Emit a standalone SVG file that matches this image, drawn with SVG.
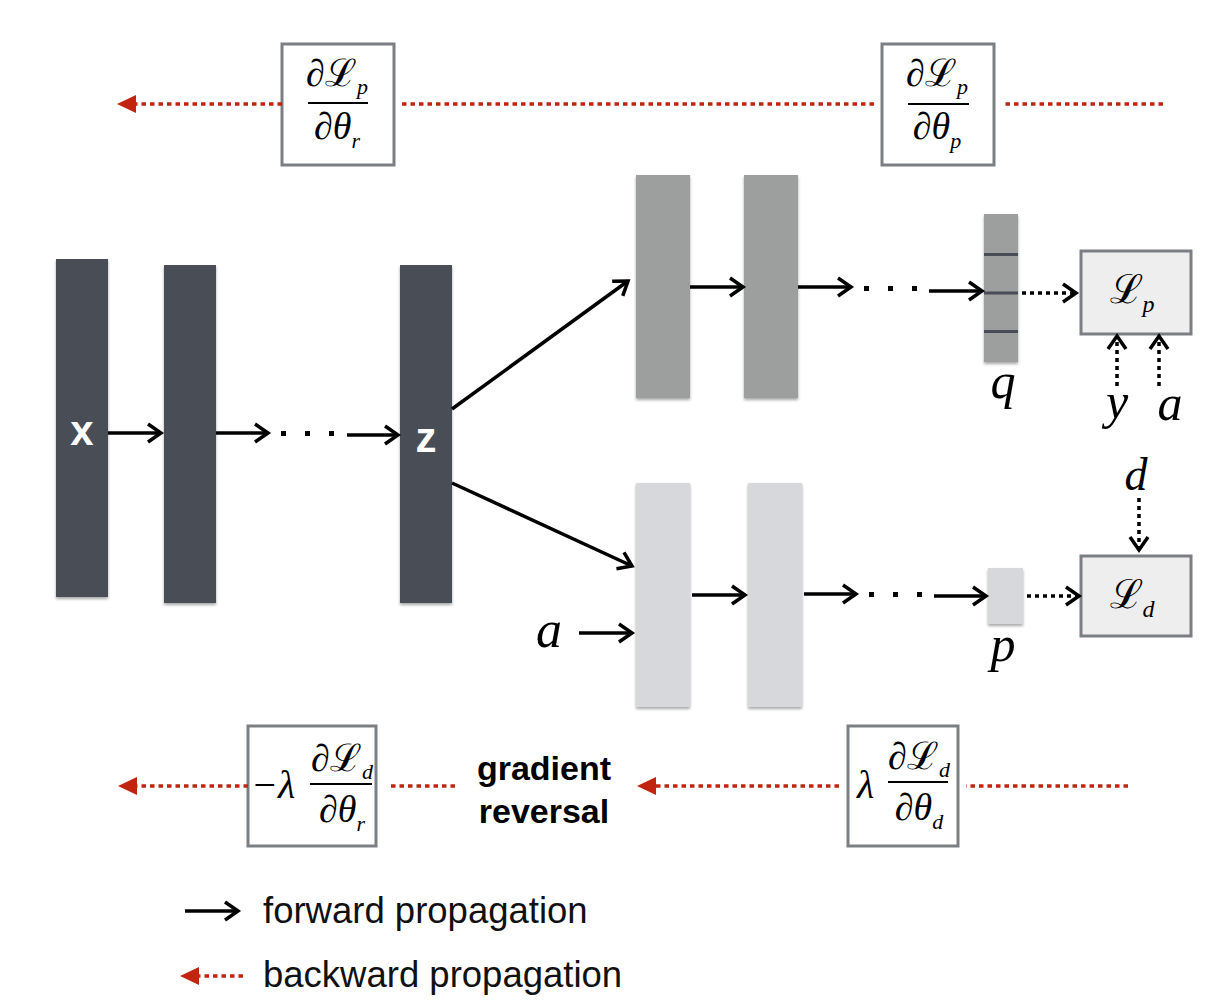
<svg xmlns="http://www.w3.org/2000/svg" width="1218" height="1000" viewBox="0 0 1218 1000">
<style>
.dark{fill:#484d55}
.mid{fill:#9c9f9e}
.light{fill:#d7d8db}
.fwd{stroke:#000;stroke-width:3.5;fill:none}
.dotb{stroke:#000;stroke-width:3.5;fill:none;stroke-dasharray:4 4}
.dotr{stroke:#c1250f;stroke-width:3.5;fill:none;stroke-dasharray:4.5 4}
.gbox{fill:#fff;stroke:#7b7e82;stroke-width:3}
.lbox{fill:#eeeeee;stroke:#7b7e82;stroke-width:3}
.math{font-family:"Liberation Serif","DejaVu Serif",serif;font-style:italic;fill:#000}
.scr{font-style:normal}
.lbl{font-family:"Liberation Sans",Arial,sans-serif;font-weight:bold;font-size:42px;fill:#fff;text-anchor:middle}
.leg{font-family:"Liberation Sans",Arial,sans-serif;font-size:36.5px;fill:#111}
.gr{font-family:"Liberation Sans",Arial,sans-serif;font-weight:bold;font-size:34px;fill:#000;text-anchor:middle}
.dots{fill:#000}
</style>
<defs>
<filter id="sh" x="-20%" y="-10%" width="140%" height="120%">
<feDropShadow dx="0" dy="2" stdDeviation="1.5" flood-color="#000" flood-opacity="0.35"/>
</filter>
<marker id="ah" markerUnits="userSpaceOnUse" markerWidth="18" markerHeight="22" refX="14" refY="10" orient="auto" overflow="visible">
<path d="M1,1 L14,10 L1,19" fill="none" stroke="#000" stroke-width="3.5"/>
</marker>
<marker id="rh" markerUnits="userSpaceOnUse" markerWidth="20" markerHeight="20" refX="0" refY="9" orient="auto" overflow="visible">
<path d="M0,0 L19,9 L0,18 Z" fill="#c1250f"/>
</marker>
</defs>

<!-- encoder bars -->
<g id="enc-x" filter="url(#sh)"><rect class="dark" x="56" y="259" width="52" height="338"/></g>
<g id="enc-h1" filter="url(#sh)"><rect class="dark" x="164" y="265" width="52" height="338"/></g>
<g id="enc-z" filter="url(#sh)"><rect class="dark" x="400" y="265" width="52" height="338"/></g>
<text class="lbl" x="82" y="445">x</text>
<text class="lbl" x="426" y="452">z</text>

<!-- predictor branch -->
<g id="pred-1" filter="url(#sh)"><rect class="mid" x="636" y="175" width="54" height="223"/></g>
<g id="pred-2" filter="url(#sh)"><rect class="mid" x="744" y="175" width="54" height="223"/></g>
<g id="pred-q" filter="url(#sh)">
<rect class="mid" x="984" y="214" width="34" height="148"/>
<rect class="dark" x="984" y="253" width="34" height="3"/>
<rect class="dark" x="984" y="291.5" width="34" height="3"/>
<rect class="dark" x="984" y="330" width="34" height="3"/>
</g>
<text class="math" x="1003" y="398" font-size="50" text-anchor="middle">q</text>

<!-- discriminator branch -->
<g id="disc-1" filter="url(#sh)"><rect class="light" x="636" y="483" width="54" height="224"/></g>
<g id="disc-2" filter="url(#sh)"><rect class="light" x="748" y="483" width="54" height="224"/></g>
<g id="disc-p" filter="url(#sh)"><rect class="light" x="988" y="568" width="35" height="56"/></g>
<text class="math" x="1003" y="661" font-size="50" text-anchor="middle">p</text>
<text class="math" x="549" y="647" font-size="52" text-anchor="middle">a</text>

<!-- loss boxes -->
<g id="loss-p">
<rect class="lbox" x="1081" y="251" width="110" height="83"/>
<text class="math" x="1132" y="303" font-size="40" text-anchor="middle"><tspan class="scr">ℒ</tspan><tspan font-size="24" dy="9">p</tspan></text>
</g>
<g id="loss-d">
<rect class="lbox" x="1081" y="556" width="110" height="80"/>
<text class="math" x="1132" y="608" font-size="40" text-anchor="middle"><tspan class="scr">ℒ</tspan><tspan font-size="24" dy="9">d</tspan></text>
</g>
<text class="math" x="1117" y="418" font-size="50" text-anchor="middle">y</text>
<text class="math" x="1170" y="420" font-size="50" text-anchor="middle">a</text>
<text class="math" x="1136" y="490" font-size="46" text-anchor="middle">d</text>

<!-- gradient boxes -->
<g id="grad-pr">
<rect class="gbox" x="282" y="44" width="112" height="121"/>
<text class="math" x="337" y="86" font-size="38" text-anchor="middle">∂<tspan class="scr">ℒ</tspan><tspan font-size="22" dy="8">p</tspan></text>
<line x1="308" y1="103" x2="368" y2="103" stroke="#000" stroke-width="2"/>
<text class="math" x="337" y="139" font-size="38" text-anchor="middle">∂θ<tspan font-size="22" dy="9">r</tspan></text>
</g>
<g id="grad-pp">
<rect class="gbox" x="882" y="44" width="112" height="121"/>
<text class="math" x="937" y="86" font-size="38" text-anchor="middle">∂<tspan class="scr">ℒ</tspan><tspan font-size="22" dy="8">p</tspan></text>
<line x1="908" y1="104" x2="969" y2="104" stroke="#000" stroke-width="2"/>
<text class="math" x="937" y="139" font-size="38" text-anchor="middle">∂θ<tspan font-size="22" dy="9">p</tspan></text>
</g>
<g id="grad-dr">
<rect class="gbox" x="248" y="726" width="128" height="120"/>
<text class="math" x="251" y="798" font-size="40">−λ</text>
<text class="math" x="342" y="771" font-size="38" text-anchor="middle">∂<tspan class="scr">ℒ</tspan><tspan font-size="22" dy="8">d</tspan></text>
<line x1="310" y1="784" x2="372" y2="784" stroke="#000" stroke-width="2"/>
<text class="math" x="342" y="822" font-size="38" text-anchor="middle">∂θ<tspan font-size="22" dy="9">r</tspan></text>
</g>
<g id="grad-dd">
<rect class="gbox" x="848" y="726" width="110" height="120"/>
<text class="math" x="857" y="798" font-size="40">λ</text>
<text class="math" x="919" y="769" font-size="38" text-anchor="middle">∂<tspan class="scr">ℒ</tspan><tspan font-size="22" dy="8">d</tspan></text>
<line x1="888" y1="782" x2="948" y2="782" stroke="#000" stroke-width="2"/>
<text class="math" x="919" y="820" font-size="38" text-anchor="middle">∂θ<tspan font-size="22" dy="9">d</tspan></text>
</g>
<g id="grad-rev">
<text class="gr" x="544" y="780">gradient</text>
<text class="gr" x="544" y="823">reversal</text>
</g>

<!-- connectors -->
<g id="connectors">
<line class="fwd" x1="108" y1="433" x2="161" y2="433" marker-end="url(#ah)"/>
<line class="fwd" x1="216" y1="433" x2="268" y2="433" marker-end="url(#ah)"/>
<rect class="dots" x="281" y="431" width="5" height="5"/>
<rect class="dots" x="305" y="431" width="5" height="5"/>
<rect class="dots" x="329" y="431" width="5" height="5"/>
<line class="fwd" x1="347" y1="435" x2="398" y2="435" marker-end="url(#ah)"/>

<line class="fwd" x1="452" y1="409" x2="628" y2="281" marker-end="url(#ah)"/>
<line class="fwd" x1="690" y1="287" x2="743" y2="287" marker-end="url(#ah)"/>
<line class="fwd" x1="798" y1="287" x2="851" y2="287" marker-end="url(#ah)"/>
<rect class="dots" x="864" y="286" width="5" height="5"/>
<rect class="dots" x="888" y="286" width="5" height="5"/>
<rect class="dots" x="912" y="286" width="5" height="5"/>
<line class="fwd" x1="929" y1="291" x2="982" y2="291" marker-end="url(#ah)"/>
<line class="dotb" x1="1022" y1="293" x2="1076" y2="293" marker-end="url(#ah)"/>
<line class="dotb" x1="1117" y1="386" x2="1117" y2="336" marker-end="url(#ah)"/>
<line class="dotb" x1="1159" y1="386" x2="1159" y2="336" marker-end="url(#ah)"/>

<line class="fwd" x1="452" y1="483" x2="632" y2="566" marker-end="url(#ah)"/>
<line class="fwd" x1="579" y1="633" x2="632" y2="633" marker-end="url(#ah)"/>
<line class="fwd" x1="692" y1="595" x2="745" y2="595" marker-end="url(#ah)"/>
<line class="fwd" x1="804" y1="594" x2="856" y2="594" marker-end="url(#ah)"/>
<rect class="dots" x="869" y="592" width="5" height="5"/>
<rect class="dots" x="893" y="592" width="5" height="5"/>
<rect class="dots" x="917" y="592" width="5" height="5"/>
<line class="fwd" x1="934" y1="596" x2="986" y2="596" marker-end="url(#ah)"/>
<line class="dotb" x1="1027" y1="596" x2="1079" y2="596" marker-end="url(#ah)"/>
<line class="dotb" x1="1139" y1="498" x2="1139" y2="550" marker-end="url(#ah)"/>

<line class="dotr" x1="1163" y1="104" x2="1002" y2="104"/>
<line class="dotr" x1="874" y1="104" x2="398" y2="104"/>
<line class="dotr" x1="282" y1="104" x2="136" y2="104" marker-end="url(#rh)"/>

<line class="dotr" x1="1128" y1="786" x2="966" y2="786"/>
<line class="dotr" x1="839" y1="786" x2="656" y2="786" marker-end="url(#rh)"/>
<line class="dotr" x1="455" y1="786" x2="388" y2="786"/>
<line class="dotr" x1="248" y1="786" x2="137" y2="786" marker-end="url(#rh)"/>
</g>

<!-- legend -->
<g id="legend">
<line class="fwd" x1="185" y1="911" x2="238" y2="911" marker-end="url(#ah)"/>
<text class="leg" x="263" y="923">forward propagation</text>
<line class="dotr" x1="243" y1="976" x2="199" y2="976" marker-end="url(#rh)"/>
<text class="leg" x="263" y="987">backward propagation</text>
</g>
</svg>
